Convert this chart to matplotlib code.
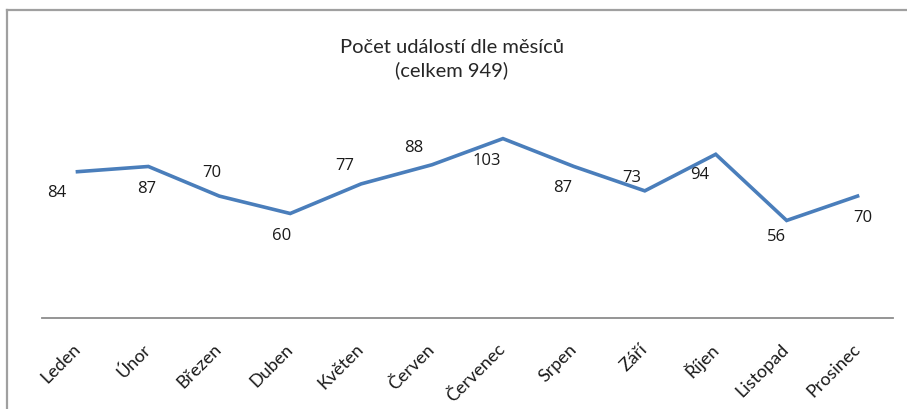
import numpy as np
import matplotlib.pyplot as plt
from matplotlib.lines import Line2D

# ------------------------------  DATA  -----------------------------
MONTHS = ['Leden', 'Únor', 'Březen', 'Duben', 'Květen', 'Červen',
          'Červenec', 'Srpen', 'Září', 'Říjen', 'Listopad', 'Prosinec']
COUNTS = [84, 87, 70, 60, 77, 88, 103, 87, 73, 94, 56, 70]
TITLE = 'Počet událostí dle měsíců\n(celkem 949)'

# label offsets in pixels (dx, dy) relative to each point
OFFSETS = [(-21, -20), (-2, -22), (-7, 24), (-9, -21), (-16, 19), (-18, 18),
           (-16, -21), (-11, -21), (-13, 14), (-16, -20), (-10, -16), (5, -21)]

# ------------------------------  MAIN BODY  -----------------------------
W, H = 907, 410
fig = plt.figure(figsize=(W / 100, H / 100), dpi=100)
ax = fig.add_axes([42 / W, (H - 319) / H, (893 - 42) / W, (319 - 110) / H])

x = np.arange(len(MONTHS))
ax.plot(x, COUNTS, color='#4A7EBB', lw=2.6, solid_joinstyle='miter')

for xi, v, (dx, dy) in zip(x, COUNTS, OFFSETS):
    ax.annotate(str(v), (xi, v), xytext=(dx, dy), textcoords='offset pixels',
                ha='center', va='center', fontsize=12, family='Open Sans',
                color='#1a1a1a')

ax.set_xlim(-0.5, len(MONTHS) - 0.5)
ax.set_ylim(0, 120)
ax.set_yticks([])
ax.set_xticks(x)
ax.set_xticklabels(MONTHS, rotation=45, ha='right', va='center',
                   rotation_mode='anchor', fontsize=13, family='Lato',
                   color='#1a1a1a')
ax.tick_params(axis='x', length=0, pad=20)
for s in ['top', 'right', 'left']:
    ax.spines[s].set_visible(False)
ax.spines['bottom'].set_color('#8c8c8c')
ax.spines['bottom'].set_linewidth(1.3)

fig.text(452 / W, 1 - 59 / H, TITLE, ha='center', va='center',
         fontsize=14.5, family='Lato', color='#262626', linespacing=1.35)

# chart frame (left and top edges visible)
fig.add_artist(Line2D([7 / W, 7 / W], [0, 1 - 11 / H], color='#a0a0a0', lw=1.6))
fig.add_artist(Line2D([7 / W, 1], [1 - 11 / H, 1 - 11 / H], color='#a0a0a0', lw=1.6))

plt.savefig('out.png', dpi=100)
print('Done!')
# ------------------------------ END -----------------------------------
